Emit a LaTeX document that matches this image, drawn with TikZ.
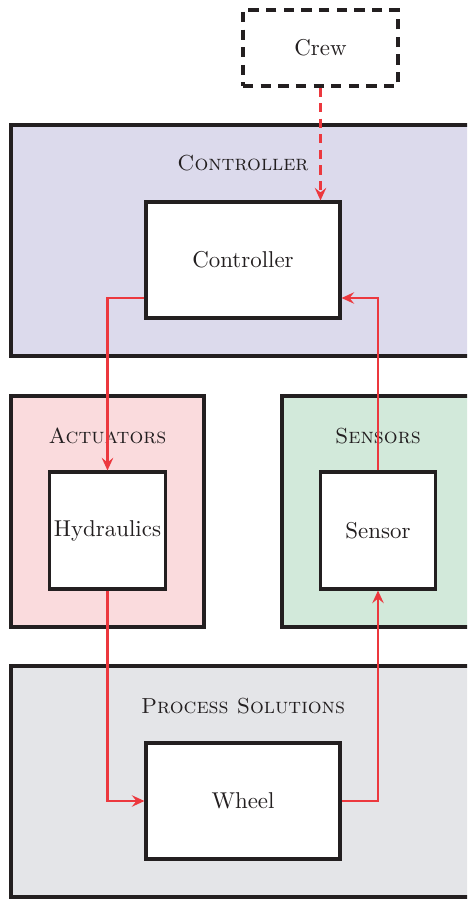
\documentclass[tikz,border=0pt]{standalone}
\usetikzlibrary{fit,arrows.meta}
\definecolor{edge}{RGB}{35,31,32}
\definecolor{flowred}{RGB}{236,56,62}
\definecolor{ctrlfill}{RGB}{220,218,236}
\definecolor{actfill}{RGB}{250,219,221}
\definecolor{senfill}{RGB}{210,233,218}
\definecolor{procfill}{RGB}{228,229,232}
\tikzset{
  group/.style={draw=edge, line width=1.35pt, inner sep=0pt},
  inbox/.style={draw=edge, fill=white, line width=1.35pt, inner sep=0pt, text=edge},
  widebox/.style={inbox, minimum width=84.72pt, minimum height=50.66pt},
  squarebox/.style={inbox, minimum width=50.4pt, minimum height=51.09pt},
  grouplabel/.style={text=edge, font=\fontsize{9.5}{11}\selectfont\scshape},
  crewbox/.style={draw=edge, line width=1.35pt, inner sep=0pt, minimum width=67.69pt, minimum height=33.19pt, dash pattern=on 4.5pt off 3.2pt, text=edge},
  flow/.style={draw=flowred, line width=1pt, -{Stealth[length=5.5pt,width=5pt,inset=2pt]}},
  flowdash/.style={flow, dash pattern=on 4pt off 2.8pt}
}
\begin{document}
\begin{tikzpicture}[x=0.4367pt,y=-0.4367pt]
\useasboundingbox (0,0) rectangle (467,899);
\clip (0,0) rectangle (467,899);
% groups
\node[group, fill=ctrlfill, fit={(11,125) (490,356)}] (gctrl) {};
\node[group, fill=actfill, fit={(11,396) (204,627)}] (gact) {};
\node[group, fill=senfill, fit={(282,396) (490,627)}] (gsen) {};
\node[group, fill=procfill, fit={(11,666) (490,897)}] (gproc) {};
\node[grouplabel] (lctrl) at (243,163) {Controller};
\node[grouplabel] (lact) at (107.5,436) {Actuators};
\node[grouplabel] (lsen) at (378,436) {Sensors};
\node[grouplabel] (lproc) at (243,706) {Process Solutions};
% inner boxes
\node[crewbox] (crew) at (320.5,48) {Crew};
\node[widebox] (ctrl) at (243,260) {Controller};
\node[squarebox] (hyd) at (107.5,530.5) {Hydraulics};
\node[squarebox] (sen) at (378,530.5) {Sensor};
\node[widebox] (wheel) at (243,801) {Wheel};
\coordinate (yc) at (0,298);
% connectors
\draw[flowdash] (crew.south) -- (crew.south |- ctrl.north);
\draw[flow] (ctrl.west |- yc) -| (hyd.north);
\draw[flow] (hyd.south) |- (wheel.west);
\draw[flow] (wheel.east) -| (sen.south);
\draw[flow] (sen.north) |- (ctrl.east |- yc);
\end{tikzpicture}
\end{document}
